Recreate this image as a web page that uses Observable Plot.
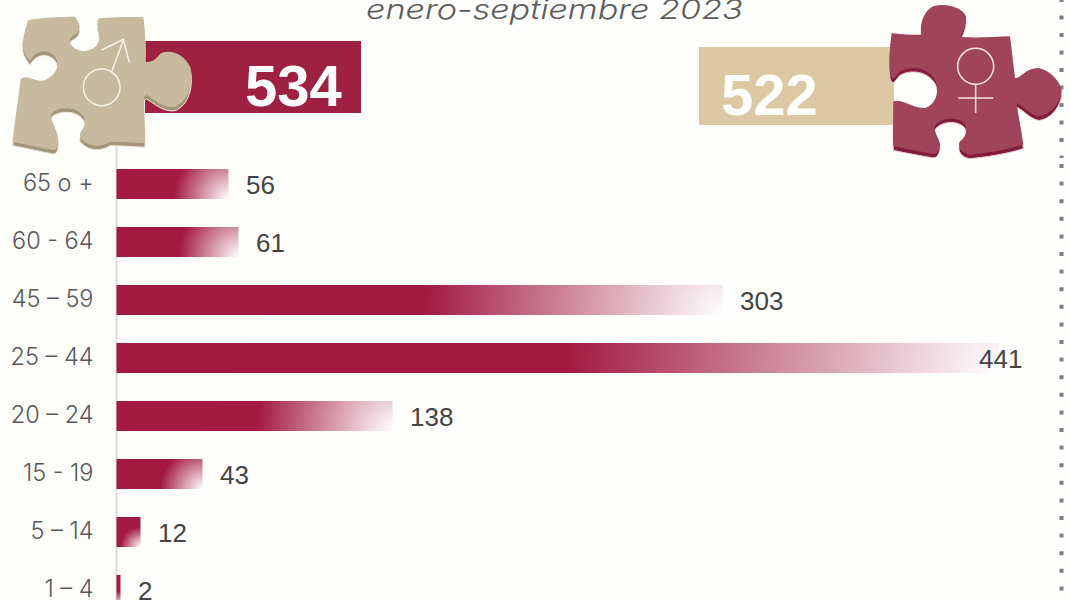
<!DOCTYPE html>
<html lang="es">
<head>
<meta charset="utf-8">
<script src="https://cdn.jsdelivr.net/npm/d3@7"></script>
<script src="https://cdn.jsdelivr.net/npm/@observablehq/plot@0.6"></script>
<style>
html,body{margin:0;padding:0;width:1070px;height:600px;overflow:hidden;background:#fff}
#stage{position:relative;width:1070px;height:600px;overflow:hidden}
#stage>svg{position:absolute;left:0;top:0}
#bg{z-index:0}#chart{position:absolute;left:0;top:0;z-index:1}#over{z-index:2}
</style>
</head>
<body>
<div id="stage">
<svg id="bg" width="1070" height="600">
  <rect width="1070" height="600" fill="#fefefd"/>
  <path d="M0 0H150L330 190 120 600H0Z" fill="#fdfdfa"/>
  <path d="M620 130L1050 560V600H760L520 270Z" fill="#fefefc"/>
</svg>
<div id="chart"></div>
<svg id="over" width="1070" height="600"></svg>
</div>
<script>
const ageGroups = ["65 o +","60 - 64","45 – 59","25 – 44","20 – 24","15 - 19","5 – 14","1 – 4"];
const cases = [56,61,303,441,138,43,12,2];
const subtitle = "enero-septiembre 2023";
const totalMen = 534;
const totalWomen = 522;
const table = ageGroups.map((age,i)=>({age,value:cases[i]}));

const BAR = "#a21a42";
const chart = Plot.plot({
  width:1070, height:600,
  marginLeft:116.5, marginRight:13.5, marginTop:141, marginBottom:0,
  style:{background:"transparent",fontFamily:"Inter, sans-serif",overflow:"hidden"},
  x:{domain:[0,470],axis:null},
  y:{domain:ageGroups,range:[155,619],paddingInner:28/58,paddingOuter:14/58,round:false,label:null},
  marks:[
    Plot.ruleX([0],{stroke:"#dcdcdc",strokeWidth:2,dx:-0.5}),
    Plot.barX(table,{x:"value",y:"age",fill:BAR}),
    Plot.axisY({anchor:"left",tickSize:0,tickPadding:23.5,fontSize:23.5,fill:"#58585a",label:null,fontWeight:300,dy:-1}),
    Plot.text(table.filter(d=>d.value<400),{x:"value",y:"age",text:d=>String(d.value),textAnchor:"start",dx:17,dy:1,
      fontFamily:"Liberation Sans, Arial, sans-serif",fontSize:26,fill:"#444"}),
    Plot.text(table.filter(d=>d.value>=400),{x:"value",y:"age",text:d=>String(d.value),textAnchor:"start",dx:-20,dy:1,
      fontFamily:"Liberation Sans, Arial, sans-serif",fontSize:26,fill:"#444"})
  ]
});
document.getElementById("chart").append(chart);

/* radial fade anchored on each bar's lower-right corner */
const svg = d3.select(chart);
const defs = svg.append("defs");
svg.selectAll('g[aria-label="bar"] rect').each(function(_,i){
  const r = d3.select(this), w=+r.attr("width"), h=+r.attr("height");
  const rad = w<10 ? 14 : Math.max(0.49*w,20);
  const g = defs.append("radialGradient").attr("id","fade"+i)
    .attr("cx",0).attr("cy",0).attr("r",1)
    .attr("gradientTransform",`translate(1,1) scale(${rad/w},${rad/h})`);
  g.append("stop").attr("offset",0).attr("stop-color","#ffffff");
  g.append("stop").attr("offset",1).attr("stop-color",BAR);
  r.attr("fill",`url(#fade${i})`);
});

const malePath = "M85 60C130 52 185 50 225 50C245 75 245 95 215 110C195 125 225 155 255 153C290 150 305 125 295 85C290 70 292 60 298 55C340 52 390 50 430 52C436 90 436 140 435 185C455 190 470 175 480 162C505 145 555 160 572 205C580 250 565 305 525 320C490 325 465 300 440 285L432 290C432 340 436 390 435 430C395 428 360 425 330 425C300 445 260 440 240 412C235 395 260 380 255 360C245 325 195 315 160 335C140 355 175 385 175 420C175 440 170 450 160 450C115 442 75 432 38 425C45 360 55 295 62 238C80 220 105 250 135 240C170 225 185 190 160 165C135 145 105 155 90 183C75 165 65 145 68 125C72 100 78 80 85 60Z";
const femalePath = "M635 100C665 105 695 105 725 105C718 80 728 40 755 22C790 8 845 20 858 50C860 75 848 95 840 112C890 115 945 112 990 110C995 150 1000 195 1005 235C1022 238 1035 205 1075 205C1110 210 1145 250 1145 275C1140 315 1105 350 1075 350C1050 345 1030 320 1010 310C1015 350 1025 395 1030 435C985 450 920 460 870 465C845 462 830 440 840 425C860 410 865 385 850 368C825 348 780 355 765 378C760 400 782 420 780 438C775 455 770 465 755 462C715 455 675 448 640 440C638 395 640 345 640 305C665 295 695 325 735 325C770 315 780 270 765 240C745 205 695 195 660 215C645 230 640 250 630 225C625 185 630 140 635 100Z";

document.getElementById("over").innerHTML = `
  <text x="366" y="19" textLength="377" lengthAdjust="spacingAndGlyphs" font-family="Inter, sans-serif" font-style="italic" font-weight="300" font-size="27" fill="#5c5c5c">${subtitle}</text>
  <path d="M1061.5 0V158" stroke="#7f7f7f" stroke-width="4" stroke-dasharray="4 13.5" stroke-dashoffset="2"/>
  <path d="M1061.5 164V600" stroke="#7f7f7f" stroke-width="4" stroke-dasharray="4 13.6"/>
  <rect x="145" y="41" width="216" height="72" fill="#9e2141"/>
  <text x="245" y="106" font-family="Liberation Sans, Arial, sans-serif" font-weight="700" font-size="58" fill="#fff">${totalMen}</text>
  <rect x="699" y="47" width="195" height="78" fill="#dcc9a3"/>
  <text x="721" y="115" font-family="Liberation Sans, Arial, sans-serif" font-weight="700" font-size="58" fill="#fff">${totalWomen}</text>
  <g transform="scale(0.33333)">
    <path d="${malePath}" transform="translate(0,12)" fill="#a3957a" stroke="#efe9dc" stroke-width="3"/>
    <path d="${malePath}" fill="#c8ba9f"/>
    <g fill="none" stroke="#f7f3ea" stroke-width="4.5">
      <circle cx="305" cy="262" r="55"/>
      <path d="M335 215L370 120M305 150L370 118L388 188"/>
    </g>
    <g transform="translate(2040,-1)">
      <path d="${femalePath}" transform="translate(0,12)" fill="#851b3c" stroke="#e8c7d0" stroke-width="3"/>
      <path d="${femalePath}" fill="#9f445b"/>
      <g fill="none" stroke="#f4e4e6" stroke-width="4.5">
        <circle cx="887" cy="200" r="54"/>
        <path d="M887 254V340M835 295H940"/>
      </g>
    </g>
  </g>`;
</script>
</body>
</html>
